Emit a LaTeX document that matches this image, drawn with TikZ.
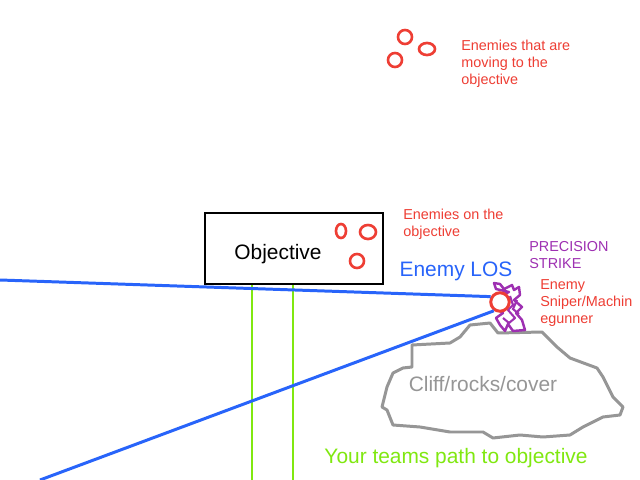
\documentclass[tikz,border=0pt]{standalone}
\usepackage{fontspec}
\setmainfont{Liberation Sans}
\definecolor{enemyred}{RGB}{238,62,52}
\definecolor{losblue}{RGB}{40,100,250}
\definecolor{pathgreen}{RGB}{128,232,16}
\definecolor{strikepurple}{RGB}{158,48,178}
\definecolor{rockgray}{RGB}{150,150,150}
\tikzset{
	enemy/.style={draw=enemyred, line width=1.5pt},
	smalllabel/.style={anchor=west, inner sep=0pt, align=left, font=\fontsize{8.2}{9.7}\selectfont},
	biglabel/.style={inner sep=0pt, font=\fontsize{11.9}{14}\selectfont},
	losline/.style={draw=losblue, line width=1.7pt},
	teampath/.style={draw=pathgreen, line width=1.7pt}
}
\begin{document}
\begin{tikzpicture}[x=0.02cm, y=-0.02cm]
	\fill[white] (0,0) rectangle (640,480);
	\useasboundingbox (0,0) rectangle (640,480);
	% objective
	\node (objective) at (294,248.5) [draw=black, line width=1.5pt, minimum width=3.56cm, minimum height=1.42cm, inner sep=0pt]{};
	\node (objlabel) at (278,254) [biglabel]{Objective};
	% team path
	\coordinate (pathA) at (252,480);
	\coordinate (pathB) at (293,480);
	\draw[teampath] (objective.south -| pathA) -- (pathA);
	\draw[teampath] (objective.south -| pathB) -- (pathB);
	\node (pathlabel) at (456,458) [biglabel, text=pathgreen]{Your teams path to objective};
	% enemies moving
	\draw[enemy] (405,37) circle [radius=7];
	\draw[enemy] (427,49) ellipse [x radius=8, y radius=6];
	\draw[enemy] (395,60) circle [radius=7];
	\node (movinglabel) at (461,64) [smalllabel, text=enemyred]{Enemies that are\\moving to the\\objective};
	% enemies on objective
	\draw[enemy] (341,231) ellipse [x radius=5, y radius=7];
	\draw[enemy] (368,232) ellipse [x radius=8, y radius=7];
	\draw[enemy] (357,261) circle [radius=7];
	\node (onlabel) at (403,224) [smalllabel, text=enemyred]{Enemies on the\\objective};
	% cliff
	\draw[rockgray, line width=1.7pt, line join=round]
		(412,367) -- (412,345) -- (450,343) -- (460,337) -- (470,325) -- (490,323)
		-- (498,333) -- (542,332) -- (557,347) -- (570,358) -- (597,368) -- (603,377)
		-- (613,397) -- (623,407) -- (620,415) -- (603,417) -- (583,427) -- (570,435)
		-- (543,437) -- (520,435) -- (493,438) -- (483,432) -- (450,432) -- (420,427)
		-- (393,425) -- (387,410) -- (382,407) -- (387,387) -- (393,373) -- (403,368) -- cycle;
	\node (cliffabel) at (483,384) [biglabel, text=rockgray]{Cliff/rocks/cover};
	% precision strike
	\draw[strikepurple, line width=1.4pt, line join=round]
		(494,283) -- (500,284) -- (504,289) -- (512,285) -- (514,290) -- (519,287) -- (520,295) -- (514,300)
		-- (522,307) -- (516,313) -- (522,320) -- (525,330) -- (513,331) -- (508,324)
		-- (505,331) -- (500,325) -- (496,318) -- (503,313) -- (496,308) -- (507,300)
		-- (502,295) -- (509,292) -- (496,289) -- cycle;
	\draw[strikepurple, line width=1.2pt, line join=round] (510,296) -- (513,305) -- (508,310) -- (515,318) -- (509,323) -- (503,318);
	\draw[strikepurple, line width=1.2pt] (517,300) -- (513,309) -- (519,314);
	\node (strikelabel) at (529,255) [smalllabel, text=strikepurple]{PRECISION\\STRIKE};
	% sniper and line of sight
	\node (sniper) at (500,302) [circle, draw=enemyred, fill=white, line width=1.7pt, minimum size=0.37cm, inner sep=0pt]{};
	\coordinate (losleft) at (0,280);
	\coordinate (losbottom) at (40,480);
	\draw[losline] (losleft) -- (sniper.150);
	\draw[losline] (losbottom) -- (sniper.235);
	\node (loslabel) at (456,271) [biglabel, text=losblue]{Enemy LOS};
	\node (sniperlabel) at (540,303) [smalllabel, text=enemyred]{Enemy\\Sniper/Machin\\egunner};
\end{tikzpicture}
\end{document}
